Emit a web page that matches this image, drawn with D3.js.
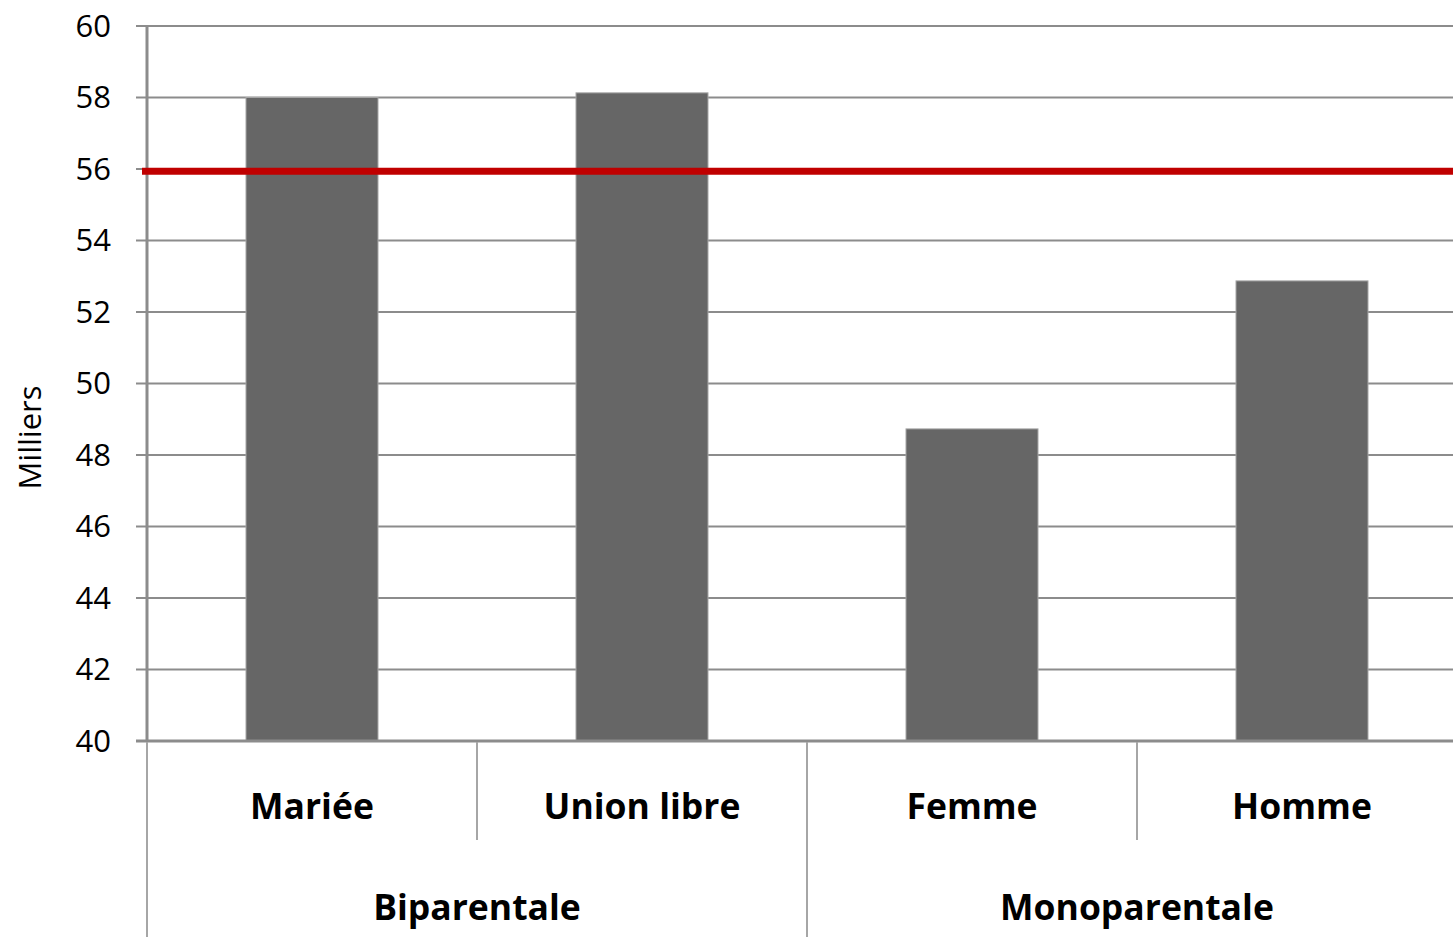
<!DOCTYPE html>
<html>
<head>
<meta charset="utf-8">
<script src="https://cdn.jsdelivr.net/npm/d3@7"></script>
<style>
  body { margin: 0; background: #fff; }
</style>
</head>
<body>
<div id="chart"></div>
<script>
// Data
const categories = ['Mariée', 'Union libre', 'Femme', 'Homme']
const groups = ['Biparentale', 'Biparentale', 'Monoparentale', 'Monoparentale']
const groupNames = ['Biparentale', 'Monoparentale']
const values = [58.0, 58.13, 48.73, 52.87]
const average = 55.94
const yTicks = [40, 42, 44, 46, 48, 50, 52, 54, 56, 58, 60]

//Dimension
let dimensions = {
  width: 1453,
  height: 937,
  margin: {
    top: 26,
    bottom: 196,
    left: 147,
    right: -14
  }
}

const font = "'Open Sans', 'DejaVu Sans', sans-serif"

const svg = d3.select('#chart')
              .append('svg')
              .attr('width', dimensions.width)
              .attr('height', dimensions.height)

const container = svg.append('g')
                     .attr('transform', `translate(${dimensions.margin.left},${dimensions.margin.top})`)

const containerWidth = dimensions.width - dimensions.margin.left - dimensions.margin.right
const containerHeight = dimensions.height - dimensions.margin.top - dimensions.margin.bottom

//Scales
const xScale = d3.scaleBand()
                 .domain(categories)
                 .range([0, containerWidth])
                 .paddingInner(0.6)
                 .paddingOuter(0.3)

const bandScale = d3.scaleBand()
                    .domain(categories)
                    .range([0, containerWidth])

const yScale = d3.scaleLinear()
                 .domain([40, 60])
                 .range([containerHeight, 0])

// Gridlines
container.append('g')
         .selectAll('line')
         .data(yTicks)
         .join('line')
         .attr('x1', -11)
         .attr('x2', containerWidth)
         .attr('y1', d => yScale(d))
         .attr('y2', d => yScale(d))
         .attr('stroke', '#8c8c8c')
         .attr('stroke-width', 2)

// Y axis labels
container.append('g')
         .selectAll('text')
         .data(yTicks)
         .join('text')
         .attr('x', -36)
         .attr('y', d => yScale(d))
         .attr('dy', '0.35em')
         .attr('text-anchor', 'end')
         .attr('font-family', font)
         .attr('font-size', '31px')
         .attr('fill', '#000')
         .text(d => d)

// Y axis line
container.append('line')
         .attr('x1', 0).attr('x2', 0)
         .attr('y1', 0).attr('y2', containerHeight)
         .attr('stroke', '#8c8c8c')
         .attr('stroke-width', 3)

// Bars
container.selectAll('rect.bar')
         .data(values)
         .join('rect')
         .attr('class', 'bar')
         .attr('x', (d, i) => xScale(categories[i]))
         .attr('width', xScale.bandwidth())
         .attr('y', d => yScale(d))
         .attr('height', d => containerHeight - yScale(d))
         .attr('fill', '#666666')
         .attr('stroke', '#a6a6a6')
         .attr('stroke-width', 1)

// Baseline
container.append('line')
         .attr('x1', -11).attr('x2', containerWidth)
         .attr('y1', containerHeight).attr('y2', containerHeight)
         .attr('stroke', '#8c8c8c')
         .attr('stroke-width', 3)

// Average line
container.append('line')
         .attr('x1', -5).attr('x2', containerWidth)
         .attr('y1', yScale(average)).attr('y2', yScale(average))
         .attr('stroke', '#c00000')
         .attr('stroke-width', 7)

// Category axis separators
const lowerY = dimensions.height - dimensions.margin.top
categories.forEach((c, i) => {
  const isGroupStart = i === 0 || groups[i] !== groups[i - 1]
  container.append('line')
           .attr('x1', bandScale(c)).attr('x2', bandScale(c))
           .attr('y1', containerHeight + 1)
           .attr('y2', isGroupStart ? lowerY : containerHeight + 99)
           .attr('stroke', '#a6a6a6')
           .attr('stroke-width', 2)
})
container.append('line')
         .attr('x1', containerWidth).attr('x2', containerWidth)
         .attr('y1', containerHeight).attr('y2', lowerY)
         .attr('stroke', '#a6a6a6')
         .attr('stroke-width', 2)

// Category labels
container.append('g')
         .selectAll('text')
         .data(categories)
         .join('text')
         .attr('x', d => bandScale(d) + bandScale.bandwidth() / 2)
         .attr('y', containerHeight + 78)
         .attr('text-anchor', 'middle')
         .attr('font-family', font)
         .attr('font-weight', 'bold')
         .attr('font-size', '35.5px')
         .text(d => d)

// Group labels
container.append('g')
         .selectAll('text')
         .data(groupNames)
         .join('text')
         .attr('x', g => {
           const members = categories.filter((c, i) => groups[i] === g)
           const start = bandScale(members[0])
           const end = bandScale(members[members.length - 1]) + bandScale.bandwidth()
           return (start + end) / 2
         })
         .attr('y', containerHeight + 179)
         .attr('text-anchor', 'middle')
         .attr('font-family', font)
         .attr('font-weight', 'bold')
         .attr('font-size', '35.5px')
         .text(d => d)

// Y axis title
container.append('text')
         .attr('x', -containerHeight / 2 - 54)
         .attr('y', -106)
         .attr('text-anchor', 'middle')
         .attr('transform', 'rotate(-90)')
         .attr('font-family', font)
         .attr('font-size', '31px')
         .text('Milliers')
</script>
</body>
</html>
